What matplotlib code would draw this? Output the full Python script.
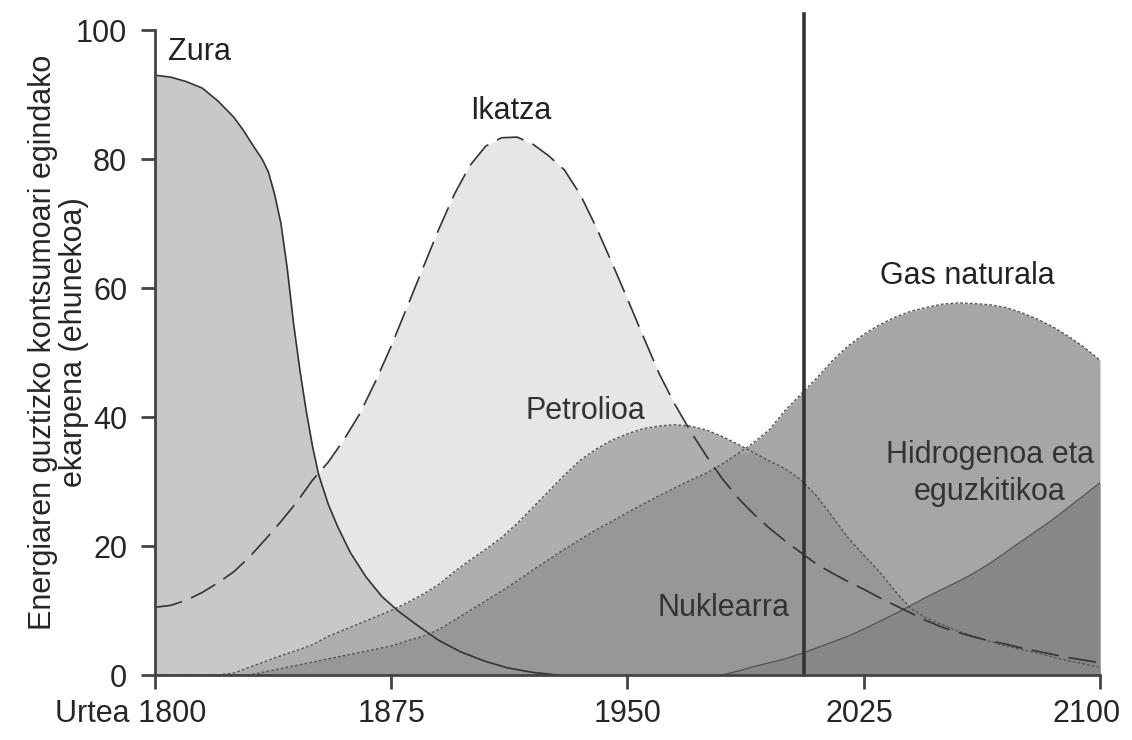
import numpy as np
import matplotlib
matplotlib.use("Agg")
import matplotlib.pyplot as plt
from matplotlib.transforms import ScaledTranslation

plt.rcParams['font.family'] = ['Liberation Sans Narrow', 'Liberation Sans', 'DejaVu Sans']
plt.rcParams['lines.scale_dashes'] = False

# urteak, 5 urteko tartea
years = np.arange(1800, 2101, 5)

# zuraren kurba: urte irregularrak (beherakada bizkorra)
zura_years = [1800, 1805, 1810, 1815, 1820, 1825, 1828, 1831, 1834, 1836, 1838, 1840, 1842, 1844, 1846,
              1848, 1850, 1852, 1855, 1858, 1862, 1867, 1872, 1877, 1883, 1890, 1897, 1905, 1912, 1920, 1928]
zura = [93, 92.7, 92, 91, 89, 86.5, 84.5, 82.2, 80, 78, 74.5, 70, 63, 54.5, 47.3,
        41, 35.5, 31, 26.5, 23, 19, 15.2, 12.2, 10, 7.8, 5.4, 3.6, 2.1, 1.1, 0.4, 0]

ikatza = [10.5, 10.8, 11.6, 12.8, 14.3, 16, 18.3, 21, 23.8, 26.8, 30.2, 33, 36.5, 40.5, 45.5, 51, 57, 63, 69, 74.5,
          79, 82, 83.3, 83.4, 82.3, 80.5, 78.3, 74.5, 69.5, 64, 58.3, 52.5, 46.8, 42, 37.8, 34, 30.5, 27.5, 25, 22.8,
          20.8, 19, 17.2, 15.8, 14.5, 13.3, 12, 10.8, 9.6, 8.4, 7.4, 6.6, 5.9, 5.3, 4.8, 4.2, 3.7, 3.2, 2.7, 2.3, 1.9]

petrolioa = [0, 0, 0, 0, 0, 0.3, 1.2, 2.1, 3, 3.8, 4.7, 6, 7, 8, 9, 10, 11.2, 12.5, 14, 16,
             17.8, 19.5, 21.3, 23.5, 26, 28.5, 31, 33.3, 35, 36.4, 37.4, 38.2, 38.6, 38.8, 38.6, 38, 37, 35.8, 34.5, 33.2,
             32, 30.3, 27.8, 24.6, 21.3, 18.6, 16, 13, 10.3, 8.8, 7.8, 6.8, 6, 5.2, 4.5, 4, 3.4, 2.8, 2.2, 1.7, 1.2]

gasa = [0, 0, 0, 0, 0, 0, 0, 0.5, 1, 1.5, 2, 2.5, 3, 3.5, 4, 4.5, 5.3, 6, 7, 8.5,
        10, 11.5, 13, 14.6, 16.3, 17.9, 19.5, 21, 22.5, 23.8, 25.2, 26.5, 27.8, 29, 30.2, 31.3, 32.7, 34.3, 36, 38,
        41, 43.5, 46, 48.7, 51, 52.8, 54.3, 55.5, 56.4, 57, 57.5, 57.7, 57.6, 57.4, 57, 56.2, 55.2, 54, 52.5, 50.8, 48.8]

hidrogenoa = [0, 0, 0, 0, 0, 0, 0, 0, 0, 0, 0, 0, 0, 0, 0, 0, 0, 0, 0, 0,
              0, 0, 0, 0, 0, 0, 0, 0, 0, 0, 0, 0, 0, 0, 0, 0, 0, 0.6, 1.3, 1.9,
              2.5, 3.3, 4.2, 5.1, 6, 7.1, 8.3, 9.5, 10.8, 12.1, 13.3, 14.5, 15.8, 17.3, 19, 20.7, 22.4, 24.1, 26, 27.9, 29.8]

gaur = 2006
xticks = [1800, 1875, 1950, 2025, 2100]
xticklabels = ['Urtea 1800', '1875', '1950', '2025', '2100']
yticks = [0, 20, 40, 60, 80, 100]

petrolioa = np.array(petrolioa)
gasa = np.array(gasa)
hidrogenoa = np.array(hidrogenoa)

fig = plt.figure(figsize=(11.32, 7.4), dpi=100)
ax = fig.add_axes([0.1369, 0.0878, 0.8348, 0.8716])

# betegarriak
ax.fill_between(years, 0, ikatza, color='#e4e7e4', lw=0)
ax.fill_between(zura_years, 0, zura, color='#c6c9c6', lw=0)
ax.fill_between(years, 0, petrolioa, color='#acafac', lw=0)
ax.fill_between(years, 0, gasa, color='#a4a7a4', lw=0)
ax.fill_between(years, 0, np.minimum(petrolioa, gasa), color='#959895', lw=0)
ax.fill_between(years, 0, hidrogenoa, color='#858885', lw=0)

# lerroak
ax.plot(years, petrolioa, color='#555555', lw=1.0, dashes=(2, 1.5))
ax.plot(years, gasa, color='#555555', lw=1.0, dashes=(2, 1.5))
ax.plot(years[36:], hidrogenoa[36:], color='#505050', lw=0.9)
ax.plot(zura_years, zura, color='#333333', lw=1.2)
ax.plot(years, ikatza, color='#333333', lw=1.2, dashes=(20, 7))

ax.plot([gaur, gaur], [0, 102.5], color='#333333', lw=2.6, clip_on=False, zorder=5)

ax.set_xlim(1800, 2100)
ax.set_ylim(0, 100)
for s in ['top', 'right']:
    ax.spines[s].set_visible(False)
for s in ['left', 'bottom']:
    ax.spines[s].set_color('#444444')
    ax.spines[s].set_linewidth(2)
    ax.spines[s].set_zorder(6)

ax.set_xticks(xticks)
ax.set_xticklabels(xticklabels)
ax.set_yticks(yticks)
ax.tick_params(length=10, width=2, color='#444444', labelsize=22, labelcolor='#262626')
ax.tick_params(axis='y', pad=10)
ax.tick_params(axis='x', pad=7)

labels = ax.get_xticklabels()
for lab, dx in zip(labels, [-24, 0, 0, -4, -13]):
    lab.set_transform(lab.get_transform() + ScaledTranslation(dx / 100, 0, fig.dpi_scale_trans))

tc = '#222222'
ax.text(1804.1, 96.6, 'Zura', fontsize=22, color=tc, ha='left', va='center')
ax.text(1913, 87.4, 'Ikatza', fontsize=22, color=tc, ha='center', va='center')
ax.text(1936.5, 40.9, 'Petrolioa', fontsize=22, color='#333333', ha='center', va='center')
ax.text(2057.8, 61.9, 'Gas naturala', fontsize=22, color=tc, ha='center', va='center')
ax.text(1980.6, 10.4, 'Nuklearra', fontsize=22, color='#333333', ha='center', va='center', zorder=7)
ax.text(2065, 31.3, 'Hidrogenoa eta\neguzkitikoa', fontsize=22, color='#333333',
        ha='center', va='center', linespacing=1.3, zorder=7)

fig.text(0.0517, 0.538, 'Energiaren guztizko kontsumoari egindako\nekarpena (ehunekoa)',
         rotation=90, fontsize=22, color='#262626', ha='center', va='center',
         multialignment='center', linespacing=1.05)

fig.savefig('out.png', dpi=100, facecolor='white')
